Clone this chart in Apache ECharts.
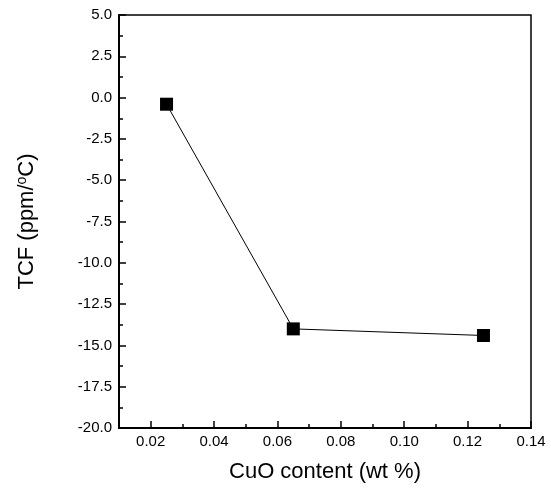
<!DOCTYPE html>
<html><head><meta charset="utf-8">
<script src="https://cdn.jsdelivr.net/npm/echarts@6/dist/echarts.min.js"></script>
<style>html,body{margin:0;padding:0;background:#fff}#c{width:551px;height:488px}</style>
</head><body><div id="c"></div>
<script>
const cuoContent = [0.025, 0.065, 0.125];
const tcfValues = [-0.4, -14.0, -14.4];
const xTickLabels = [0.02, 0.04, 0.06, 0.08, 0.10, 0.12, 0.14];
const xName = 'CuO content (wt %)';
const chart = echarts.init(document.getElementById('c'), null, {renderer: 'canvas'});
const font = 'Liberation Sans, Arial, sans-serif';
chart.setOption({
  animation: false,
  backgroundColor: '#fff',
  grid: {left: 119, right: 20, top: 15, bottom: 57, show: true, borderColor: '#000', borderWidth: 1.5, backgroundColor: 'transparent'},
  xAxis: [{
    type: 'value', min: 0.01, max: 0.14, interval: 0.02,
    name: xName, nameLocation: 'middle', nameGap: 33,
    nameTextStyle: {fontFamily: font, fontSize: 22, color: '#000'},
    axisLine: {onZero: false, lineStyle: {color: '#000', width: 2}},
    axisTick: {inside: true, length: 7, lineStyle: {color: '#000', width: 1.5}, customValues: xTickLabels},
    axisLabel: {fontFamily: font, fontSize: 15, color: '#000', margin: 6,
      customValues: xTickLabels,
      formatter: v => v.toFixed(2)},
    splitLine: {show: false}
  }, {
    type: 'value', min: 0.01, max: 0.14, interval: 0.01, position: 'bottom',
    axisLine: {show: false, onZero: false},
    axisTick: {inside: true, length: 4, lineStyle: {color: '#000', width: 1.5}},
    axisLabel: {show: false},
    splitLine: {show: false}
  }],
  yAxis: {
    type: 'value', min: -20, max: 5, interval: 2.5,
    name: '{a|TCF (ppm/}{s|o}{a|C)}', nameLocation: 'middle', nameGap: 81, nameRotate: 90,
    nameTextStyle: {rich: {a: {fontFamily: font, fontSize: 22, color: '#000'}, s: {fontFamily: font, fontSize: 14, color: '#000', verticalAlign: 'top', padding: [0,0,9,0]}}},
    axisLine: {onZero: false, lineStyle: {color: '#000', width: 2}},
    axisTick: {inside: true, length: 7, lineStyle: {color: '#000', width: 1.5}},
    minorTick: {show: true, splitNumber: 2, length: 4, lineStyle: {color: '#000', width: 1.5}},
    axisLabel: {fontFamily: font, fontSize: 15, color: '#000', margin: 7, formatter: v => v.toFixed(1)},
    splitLine: {show: false}
  },
  series: [{
    type: 'line',
    data: cuoContent.map((x, i) => [x, tcfValues[i]]),
    symbol: 'rect', symbolSize: 13,
    itemStyle: {color: '#000'},
    lineStyle: {color: '#000', width: 1}
  }]
});
</script></body></html>
